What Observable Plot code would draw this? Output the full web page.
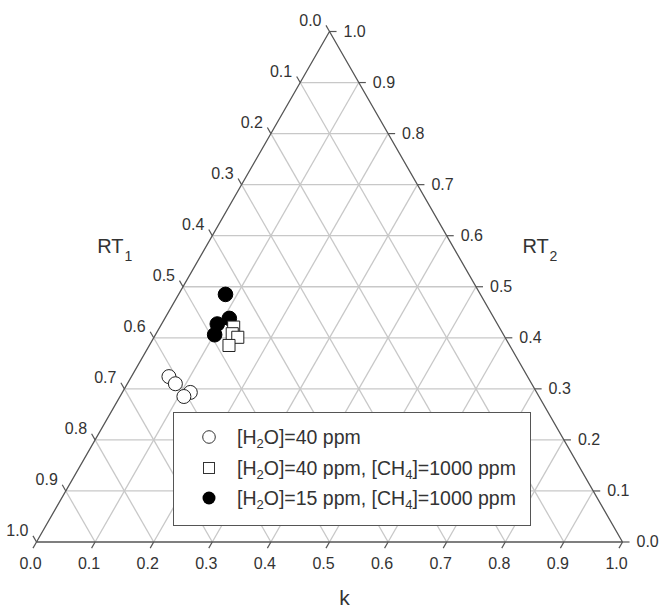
<!DOCTYPE html>
<html>
<head>
<meta charset="utf-8">
<script src="https://cdn.jsdelivr.net/npm/d3@7"></script>
<script src="https://cdn.jsdelivr.net/npm/@observablehq/plot@0.6"></script>
<style>
  body { margin: 0; background: #fff; font-family: "Liberation Sans", Arial, sans-serif; }
  #wrap { position: relative; width: 659px; height: 608px; }
  #legend { position: absolute; left: 173px; top: 412px; width: 356px; height: 112px;
            border: 1px solid #555; background: #fff; font-size: 19.5px; color: #333; }
  .row { position: absolute; left: 0; height: 22px; display: flex; align-items: center; white-space: nowrap; }
  .row svg { position: absolute; left: 24px; top: 0; }
  .row span { position: absolute; left: 63px; top: 0; line-height: 22px; }
  sub { font-size: 13px; vertical-align: -4px; line-height: 0; }
</style>
</head>
<body>
<div id="wrap"></div>
<script>
// ---- data (ternary components: k along the base, RT2 toward the apex, RT1 = 1 - k - RT2)
const seriesNames = ["[H<sub>2</sub>O]=40 ppm",
                     "[H<sub>2</sub>O]=40 ppm, [CH<sub>4</sub>]=1000 ppm",
                     "[H<sub>2</sub>O]=15 ppm, [CH<sub>4</sub>]=1000 ppm"];
const h2o40_k   = [0.064, 0.082, 0.116, 0.109];
const h2o40_rt2 = [0.324, 0.310, 0.293, 0.285];
const h2o40ch4_k   = [0.126, 0.130, 0.143, 0.136];
const h2o40ch4_rt2 = [0.421, 0.408, 0.401, 0.385];
const h2o15ch4_k   = [0.080, 0.110, 0.095, 0.101];
const h2o15ch4_rt2 = [0.485, 0.438, 0.427, 0.406];
const tickValues = [0, 0.1, 0.2, 0.3, 0.4, 0.5, 0.6, 0.7, 0.8, 0.9, 1.0];
const tickLabels = ["0.0","0.1","0.2","0.3","0.4","0.5","0.6","0.7","0.8","0.9","1.0"];
const axisTitles = ["RT", "1", "RT", "2", "k"];

// ---- helpers
const toPts = (ks, rs) => ks.map((k, i) => ({x: k + rs[i] / 2, y: rs[i]}));
const P = (k, r) => ({x: k + r / 2, y: r});
const inner = tickValues.slice(1, -1);
const grid = [];
inner.forEach(v => {
  let a = P(0, v), b = P(1 - v, v); grid.push({x1: a.x, y1: a.y, x2: b.x, y2: b.y});
  a = P(v, 0); b = P(v, 1 - v); grid.push({x1: a.x, y1: a.y, x2: b.x, y2: b.y});
  a = P(1 - v, 0); b = P(0, 1 - v); grid.push({x1: a.x, y1: a.y, x2: b.x, y2: b.y});
});
const t = 0.012;
const ticks = [];
tickValues.forEach(v => {
  let a = P(v, 0), b = P(v, -t); ticks.push({x1: a.x, y1: a.y, x2: b.x, y2: b.y});
  a = P(1 - v, v); b = P(1 - v + t, v); ticks.push({x1: a.x, y1: a.y, x2: b.x, y2: b.y});
  a = P(0, 1 - v); b = P(-t, 1 - v + t); ticks.push({x1: a.x, y1: a.y, x2: b.x, y2: b.y});
});
const edges = [P(0, 0), P(1, 0), P(0, 1), P(0, 0)];
const bottomLab = tickValues.map((v, i) => ({...P(v, 0), label: tickLabels[i]}));
const rightLab  = tickValues.map((v, i) => ({...P(1 - v, v), label: tickLabels[i]}));
const leftLab   = tickValues.map((v, i) => ({...P(0, 1 - v), label: tickLabels[i]}));

const font = '"Liberation Sans", Arial, sans-serif';
const txt = "#333";

const chart = Plot.plot({
  width: 659, height: 608,
  marginLeft: 36, marginRight: 37, marginTop: 31, marginBottom: 66.5,
  x: {domain: [0, 1], axis: null},
  y: {domain: [0, 1], axis: null},
  style: {fontFamily: font, background: "white", overflow: "visible"},
  marks: [
    Plot.link(grid, {x1: "x1", y1: "y1", x2: "x2", y2: "y2", stroke: "#c8c8c8", strokeWidth: 1.3}),
    Plot.line(edges, {x: "x", y: "y", stroke: "#555", strokeWidth: 1.3}),
    Plot.link(ticks, {x1: "x1", y1: "y1", x2: "x2", y2: "y2", stroke: "#555", strokeWidth: 1.2}),
    Plot.text(bottomLab, {x: "x", y: "y", text: "label", dx: -6, dy: 21.5, fontSize: 16, fill: txt}),
    Plot.text(rightLab, {x: "x", y: "y", text: "label", dx: 14, textAnchor: "start", fontSize: 16, fill: txt}),
    Plot.text(leftLab, {x: "x", y: "y", text: "label", dx: -8, dy: -11, textAnchor: "end", fontSize: 16, fill: txt}),
    Plot.text([P(0, 0.5)], {x: "x", y: "y", text: [axisTitles[0]], dx: -59.5, dy: -40, textAnchor: "end", fontSize: 20, fill: txt}),
    Plot.text([P(0, 0.5)], {x: "x", y: "y", text: [axisTitles[1]], dx: -58.5, dy: -30, textAnchor: "start", fontSize: 14, fill: txt}),
    Plot.text([P(0.5, 0.5)], {x: "x", y: "y", text: [axisTitles[2]], dx: 46.5, dy: -40, textAnchor: "start", fontSize: 20, fill: txt}),
    Plot.text([P(0.5, 0.5)], {x: "x", y: "y", text: [axisTitles[3]], dx: 73.5, dy: -30, textAnchor: "start", fontSize: 14, fill: txt}),
    Plot.text([P(0.5, 0)], {x: "x", y: "y", text: [axisTitles[4]], dx: 15, dy: 56, fontSize: 21, fill: txt}),
    Plot.dot(toPts(h2o40_k, h2o40_rt2), {x: "x", y: "y", r: 7, fill: "white", stroke: "#222", strokeWidth: 1}),
    Plot.dot(toPts(h2o15ch4_k, h2o15ch4_rt2), {x: "x", y: "y", r: 7.3, fill: "black", stroke: "black", strokeWidth: 1}),
    Plot.dot(toPts(h2o40ch4_k, h2o40ch4_rt2), {x: "x", y: "y", symbol: "square", r: 6.8, fill: "white", stroke: "#222", strokeWidth: 1})
  ]
});
const wrap = document.getElementById("wrap");
wrap.appendChild(chart);

// ---- legend
const legend = document.createElement("div");
legend.id = "legend";
const symbols = [
  '<circle cx="11" cy="11" r="6.3" fill="white" stroke="#333" stroke-width="1"/>',
  '<rect x="5.5" y="5.5" width="11" height="11" fill="white" stroke="#333" stroke-width="1"/>',
  '<circle cx="11" cy="11" r="6.5" fill="black"/>'
];
const rowTops = [13, 44, 74];
seriesNames.forEach((name, i) => {
  const row = document.createElement("div");
  row.className = "row";
  row.style.top = rowTops[i] + "px";
  row.innerHTML = `<svg width="22" height="22">${symbols[i]}</svg><span>${name}</span>`;
  legend.appendChild(row);
});
wrap.appendChild(legend);
</script>
</body>
</html>
